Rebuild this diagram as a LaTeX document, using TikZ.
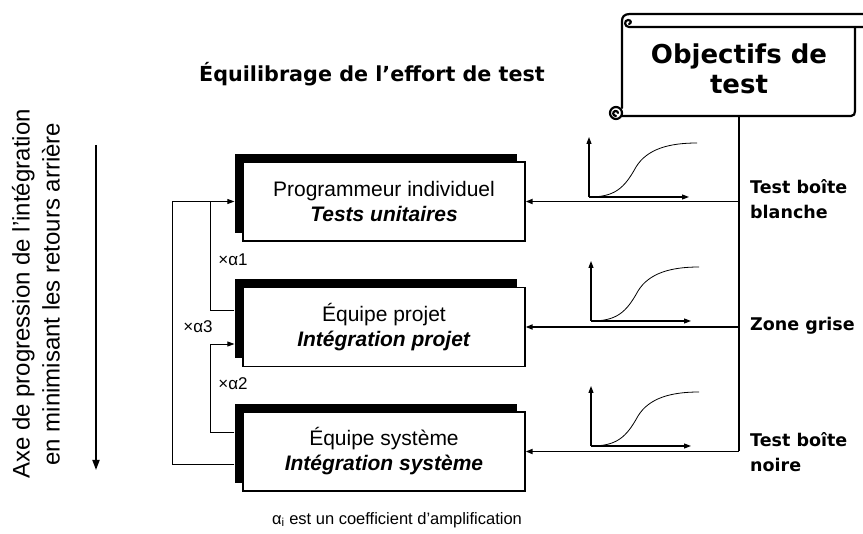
\documentclass[tikz,border=0pt]{standalone}
\usepackage{fontspec}
\setmainfont{Liberation Sans}
\newfontfamily\heavy{DejaVu Sans}
\usetikzlibrary{arrows.meta,shadows,calc}

\tikzset{
  stage/.style={draw, fill=white, line width=1.2pt, minimum width=282pt, minimum height=79pt,
    align=center, font=\fontsize{21}{25}\selectfont,
    general shadow={fill=black, shadow xshift=-8pt, shadow yshift=8pt}},
  conn/.style={line width=0.8pt},
  tip/.style={-{Triangle[length=7pt,width=5pt]}},
  feed/.style={line width=1.7pt},
  axis/.style={line width=1.1pt, -{Triangle[length=7pt,width=5pt]}},
  curve/.style={line width=0.8pt},
  scroll/.style={line width=2.2pt, line cap=round, line join=round},
  heavylbl/.style={font=\heavy\bfseries\fontsize{17.5}{25}\selectfont, align=left, anchor=west, inner sep=0pt},
  coef/.style={font=\fontsize{17}{20}\selectfont, inner sep=0pt}
}

\begin{document}
\begin{tikzpicture}[x=1pt,y=-1pt]
\useasboundingbox (0,0) rectangle (863,534);

% title
\node[font=\heavy\bfseries\fontsize{20.7}{25}\selectfont] (title) at (372,74) {Équilibrage de l’effort de test};

% scroll holding the test objectives
\draw[scroll] (863,14) -- (630,14) .. controls (624,14) and (622,17) .. (622,21) -- (622,108);
\draw[scroll] (863,27) -- (629,27) .. controls (624,27) and (624,20) .. (628,20) .. controls (631,20) and (632,23) .. (629,24);
\draw[scroll] (855,27) -- (855,111) .. controls (855,114) and (854,116) .. (851,116) -- (622,116);
\draw[scroll] (616,113) circle (6);
\draw[scroll] (616,116) .. controls (613,116) and (612,112) .. (615,111) .. controls (617,110.5) and (618,112) .. (618,113);
\node[font=\heavy\bfseries\fontsize{26}{30}\selectfont, align=center] (obj) at (739,69) {Objectifs de\\test};

% progression axis on the left
\node[rotate=90, align=center, font=\fontsize{24}{30}\selectfont] (axe) at (36,294)
  {Axe de progression de l’intégration\\en minimisant les retours arrière};
\coordinate (axtop) at (96,145);
\coordinate (axbot) at (96,470);
\draw[line width=1.8pt, -{Triangle[length=10pt,width=7pt]}] (axtop) -- (axbot);

% the three stages
\node[stage] (b1) at (384,201.5) {Programmeur individuel\\\textbf{\textit{Tests unitaires}}};
\node[stage] (b2) at (384,327) {Équipe projet\\\textbf{\textit{Intégration projet}}};
\node[stage] (b3) at (384,451.5) {Équipe système\\\textbf{\textit{Intégration système}}};

% feedback loops on the left
\coordinate (x3) at (172,0);
\coordinate (x12) at (210,0);
\coordinate (in1) at ([xshift=-8pt]b1.west);
\coordinate (in2) at ([xshift=-8pt,yshift=-17pt]b2.west);
\coordinate (out2) at ([xshift=-8pt,yshift=17pt]b2.west);
\coordinate (out3a) at ([xshift=-8pt,yshift=19.5pt]b3.west);
\coordinate (out3b) at ([xshift=-8pt,yshift=-12.5pt]b3.west);
\draw[conn, tip] (out3b) -- (out3b -| x3) |- (in1);
\draw[conn] (out2) -- (out2 -| x12) -- (in1 -| x12);
\draw[conn, tip] (out3a) -- (out3a -| x12) |- (in2);
\node[coef] (a1) at (233,260) {×α1};
\node[coef] (a2) at (233,384) {×α2};
\node[coef] (a3) at (198,327) {×α3};

% objectives feeding each stage
\coordinate (rv) at (739,116);
\draw[feed] (rv) -- (b3.east -| rv);
\draw[feed, tip] (b1.east -| rv) -- (b1.east);
\draw[feed, tip] (b2.east -| rv) -- (b2.east);
\draw[feed, tip] (b3.east -| rv) -- (b3.east);

% small effort curves
\foreach \ox/\oy in {589/197, 591/321, 591/446}{
  \begin{scope}[shift={(\ox,\oy)}]
    \draw[axis] (0,0) -- (0,-60);
    \draw[axis] (0,0) -- (100,0);
    \draw[curve] (0,0) .. controls (25,0) and (35,-8) .. (47,-30)
      .. controls (58,-48) and (80,-54) .. (108,-54);
  \end{scope}
}

% test kind labels
\node[heavylbl] (l1) at (750,199.5) {Test boîte\\blanche};
\node[heavylbl] (l2) at (750,326) {Zone grise};
\node[heavylbl] (l3) at (750,452) {Test boîte\\noire};

% footnote
\node[font=\fontsize{16.5}{18}\selectfont] (note) at (397,520) {α\textsubscript{i} est un coefficient d’amplification};
\end{tikzpicture}
\end{document}
